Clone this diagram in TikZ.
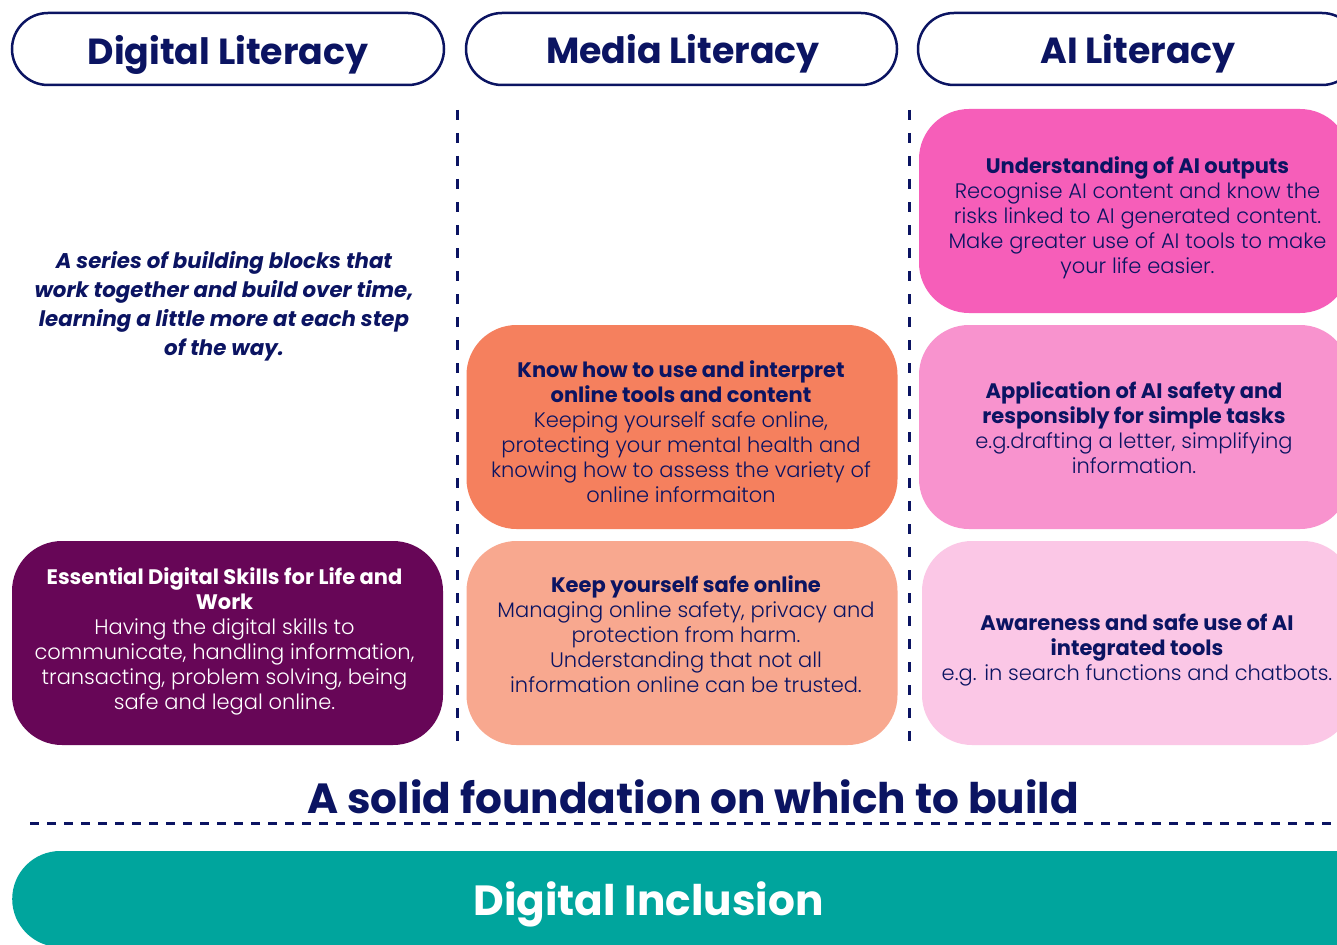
\documentclass[tikz,border=0pt]{standalone}
\usepackage{fontspec}
\setmainfont{Poppins}
\newfontfamily\lightfont{Poppins Light}
\definecolor{navy}{HTML}{0B1462}
\definecolor{plum}{HTML}{670657}
\definecolor{coral}{HTML}{F5805E}
\definecolor{salmon}{HTML}{F8A88F}
\definecolor{pinkA}{HTML}{F65EB9}
\definecolor{pinkB}{HTML}{F893CE}
\definecolor{pinkC}{HTML}{FBC7E6}
\definecolor{teal}{HTML}{00A59D}
\newcommand{\ttl}[1]{{\normalfont\bfseries #1}}
\begin{document}
\begin{tikzpicture}[x=1pt,y=-1pt,
  header/.style={draw=navy, line width=2.5pt, rounded corners=36pt, minimum height=72pt,
    fill=white, inner sep=0pt},
  headtxt/.style={anchor=base, text=navy, font=\fontsize{36.3}{40}\selectfont\bfseries, inner sep=0pt},
  card/.style={rounded corners=50pt, minimum height=204pt, minimum width=431pt, inner sep=0pt},
  cardtxt/.style={align=center, font=\fontsize{21}{25}\selectfont\lightfont, inner sep=0pt, text=navy},
  sep/.style={draw=navy, line width=3pt, dash pattern=on 10pt off 13pt},
  hsep/.style={draw=navy, line width=3pt, dash pattern=on 9pt off 8pt},
  bigtxt/.style={anchor=base, font=\fontsize{42.2}{46}\selectfont\bfseries, inner sep=0pt}]
\useasboundingbox (0,0) rectangle (1337,944);
\fill[white] (0,0) rectangle (1337,944);

% column headers
\node[header, minimum width=432pt] (hdig) at (228,49) {};
\node[header, minimum width=431pt] (hmed) at (681.5,49) {};
\node[header, minimum width=440pt] (hai) at (1138,49) {};
\node[headtxt] (hdigt) at (228,65) {Digital Literacy};
\node[headtxt] (hmedt) at (683,64) {Media Literacy};
\node[headtxt] (hait) at (1138,64) {AI Literacy};

% column separators
\coordinate (s1t) at (457,110); \coordinate (s1b) at (457,745);
\coordinate (s2t) at (909,110); \coordinate (s2b) at (909,745);
\draw[sep] (s1t) -- (s1b);
\draw[sep] (s2t) -- (s2b);

% introduction
\node[align=center, text=navy, font=\fontsize{21.3}{29}\selectfont\bfseries\itshape] (intro) at (224,306)
  {A series of building blocks that\\work together and build over time,\\learning a little more at each step\\of the way.};

% digital literacy
\node[card, fill=plum] (ess) at (227.5,643) {};
\node[cardtxt, text=white] (esst) at (224.5,641.5)
  {\ttl{Essential Digital Skills for Life and}\\\ttl{Work}\\Having the digital skills to\\communicate, handling information,\\transacting, problem solving, being\\safe and legal online.};

% media literacy
\node[card, fill=coral] (know) at (682,427) {};
\node[cardtxt] (knowt) at (681,431.5)
  {\ttl{Know how to use and interpret}\\\ttl{online tools and content}\\Keeping yourself safe online,\\protecting your mental health and\\knowing how to assess the variety of\\online informaiton};
\node[card, fill=salmon] (safe) at (682,643) {};
\node[cardtxt] (safet) at (686,634)
  {\ttl{Keep yourself safe online}\\Managing online safety, privacy and\\protection from harm.\\Understanding that not all\\information online can be trusted.};

% AI literacy
\node[card, fill=pinkA] (out) at (1134.5,211) {};
\node[cardtxt] (outt) at (1137.5,218)
  {\ttl{Understanding of AI outputs}\\Recognise AI content and know the\\risks linked to AI generated content.\\Make greater use of AI tools to make\\your life easier.};
\node[card, fill=pinkB] (app) at (1134.5,427) {};
\node[cardtxt] (appt) at (1134,427.5)
  {\ttl{Application of AI safety and}\\\ttl{responsibly for simple tasks}\\e.g.drafting a letter, simplifying\\information.};
\node[card, fill=pinkC] (aware) at (1137.5,643) {};
\node[cardtxt] (awaret) at (1137,650.5)
  {\ttl{Awareness and safe use of AI}\\\ttl{integrated tools}\\e.g. in search functions and chatbots.};

% foundation
\node[bigtxt, text=navy] (found) at (693,813) {A solid foundation on which to build};
\coordinate (hl) at (30,823); \coordinate (hr) at (1345,823);
\draw[hsep] (hl) -- (hr);
\node[fill=teal, rounded corners=48pt, minimum width=1380pt, minimum height=96pt,
  anchor=west, inner sep=0pt] (incl) at (12,899) {};
\node[bigtxt, text=white] (inclt) at (648.5,915) {Digital Inclusion};
\end{tikzpicture}
\end{document}
